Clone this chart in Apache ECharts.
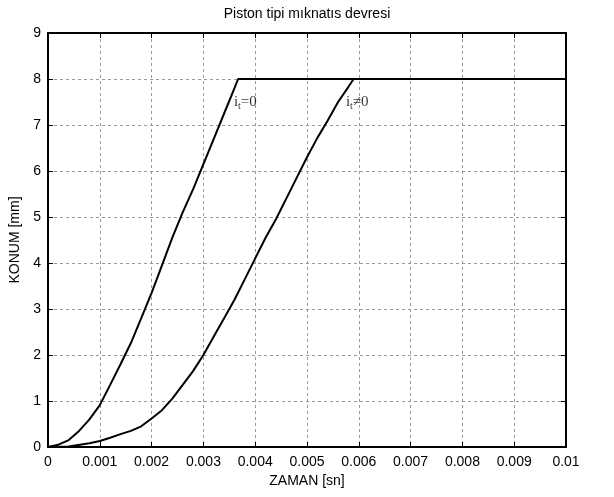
<!DOCTYPE html>
<html>
<head>
<meta charset="utf-8">
<script src="https://cdn.jsdelivr.net/npm/echarts@6/dist/echarts.min.js"></script>
<style>
  html, body { margin: 0; padding: 0; background: #fff; }
  #chart { width: 614px; height: 497px; }
</style>
</head>
<body>
<div id="chart"></div>
<script>
// Piston position vs time, for the two coil-current cases
const t0 = [0, 0.0002, 0.0004, 0.0006, 0.0008, 0.001, 0.0012, 0.0014, 0.0016, 0.0018,
            0.002, 0.0022, 0.0024, 0.0026, 0.0028, 0.003, 0.0032, 0.0034, 0.0036, 0.00367, 0.01];
const pos0 = [0, 0.05, 0.15, 0.35, 0.6, 0.91, 1.35, 1.8, 2.26, 2.8,
              3.35, 3.95, 4.55, 5.1, 5.6, 6.15, 6.7, 7.25, 7.8, 8, 8];

const t1 = [0, 0.0004, 0.0008, 0.001, 0.0012, 0.0014, 0.0016, 0.0018, 0.002, 0.0022,
            0.0024, 0.0026, 0.0028, 0.003, 0.0032, 0.0034, 0.0036, 0.0038, 0.004, 0.0042,
            0.0044, 0.0046, 0.0048, 0.005, 0.0052, 0.0054, 0.0056, 0.0058, 0.0059, 0.01];
const pos1 = [0, 0.01, 0.08, 0.13, 0.2, 0.28, 0.35, 0.45, 0.62, 0.8,
              1.05, 1.35, 1.65, 2.0, 2.4, 2.8, 3.2, 3.65, 4.1, 4.55,
              4.95, 5.4, 5.85, 6.3, 6.72, 7.1, 7.5, 7.83, 8, 8];

const xTicks = [0, 0.001, 0.002, 0.003, 0.004, 0.005, 0.006, 0.007, 0.008, 0.009, 0.01];
const yTicks = [0, 1, 2, 3, 4, 5, 6, 7, 8, 9];

// curve annotations: i_t = 0 and i_t ≠ 0
const noteX = [0.00381, 0.00597];
const noteY = [7.5, 7.5];
const noteText = ['=0', '≠0'];

const zip = (a, b) => a.map((v, i) => [v, b[i]]);
const sans = '"Liberation Sans", Arial, sans-serif';
const serif = '"Liberation Serif", "Times New Roman", serif';

const chart = echarts.init(document.getElementById('chart'), null, { renderer: 'canvas' });

const frameLine = { show: true, onZero: false, lineStyle: { color: '#000', width: 2 } };
const tickIn = { show: true, inside: true, length: 5, lineStyle: { color: '#000', width: 1 } };

chart.setOption({
  backgroundColor: '#fff',
  animation: false,
  title: {
    text: 'Piston tipi mıknatıs devresi',
    left: 'center',
    top: 2,
    textStyle: { fontFamily: sans, fontSize: 14, fontWeight: 'normal', color: '#000' }
  },
  grid: { left: 48, right: 48, top: 33, bottom: 50 },
  xAxis: [
    {
      type: 'value', min: 0, max: 0.01, interval: 0.001,
      name: 'ZAMAN [sn]', nameLocation: 'middle', nameGap: 27,
      nameTextStyle: { fontFamily: sans, fontSize: 14, color: '#000' },
      axisLine: frameLine, axisTick: tickIn,
      axisLabel: {
        fontFamily: sans, fontSize: 14, color: '#000', margin: 8,
        formatter: v => {
          const hit = xTicks.find(t => Math.abs(t - v) < 1e-9);
          return hit === undefined ? '' : String(+hit.toFixed(3));
        }
      },
      splitLine: { show: true, lineStyle: { color: '#999', type: [3, 3], width: 1 } }
    },
    {
      type: 'value', min: 0, max: 0.01, interval: 0.001, position: 'top',
      axisLine: frameLine, axisTick: tickIn, axisLabel: { show: false }, splitLine: { show: false }
    }
  ],
  yAxis: [
    {
      type: 'value', min: 0, max: 9, interval: 1,
      name: 'KONUM [mm]', nameLocation: 'middle', nameGap: 25,
      nameTextStyle: { fontFamily: sans, fontSize: 14, color: '#000' },
      axisLine: frameLine, axisTick: tickIn,
      axisLabel: {
        fontFamily: sans, fontSize: 14, color: '#000', margin: 7,
        formatter: v => yTicks.includes(v) ? String(v) : ''
      },
      splitLine: { show: true, lineStyle: { color: '#999', type: [3, 3], width: 1 } }
    },
    {
      type: 'value', min: 0, max: 9, interval: 1, position: 'right',
      axisLine: frameLine, axisTick: tickIn, axisLabel: { show: false }, splitLine: { show: false }
    }
  ],
  series: [
    {
      name: 'it=0', type: 'line', data: zip(t0, pos0), showSymbol: false, smooth: false,
      lineStyle: { color: '#000', width: 2 }, z: 5
    },
    {
      name: 'it≠0', type: 'line', data: zip(t1, pos1), showSymbol: false, smooth: false,
      lineStyle: { color: '#000', width: 2 }, z: 5
    },
    {
      name: 'notes', type: 'scatter', symbolSize: 0, silent: true, z: 6,
      data: noteX.map((x, i) => ({ value: [x, noteY[i]], note: noteText[i] })),
      label: {
        show: true, position: 'inside',
        formatter: p => '{i|i}{s|t}{v|' + p.data.note + '}',
        rich: {
          i: { fontFamily: serif, fontSize: 15, color: '#000' },
          s: { fontFamily: serif, fontSize: 10, color: '#000', padding: [9, 0, 0, 0] },
          v: { fontFamily: serif, fontSize: 15, color: '#000' }
        }
      }
    }
  ]
});
</script>
</body>
</html>
